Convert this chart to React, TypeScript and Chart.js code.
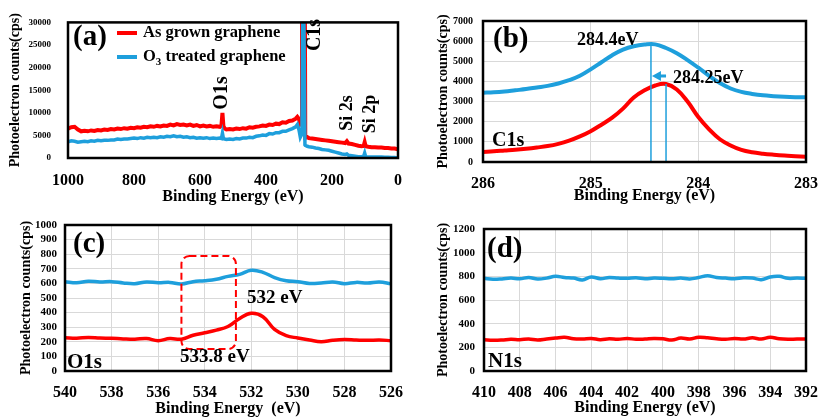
import React, { useEffect, useRef } from 'react';
import { Chart, registerables } from 'chart.js';

Chart.register(...registerables);

const FONT = '"Liberation Serif", "Times New Roman", serif';
const RED = '#ff0000';
const BLUE = '#1e9fdc';
const GRID = '#d9d9d9';

// ---------- Panel (a): survey spectrum ----------
const aEnergy = [
  1000, 990, 980, 970, 960, 950, 940, 930, 920, 910,
  900, 890, 880, 870, 860, 850, 840, 830, 820, 810,
  800, 790, 780, 770, 760, 750, 740, 730, 720, 710,
  700, 690, 680, 670, 660, 650, 640, 630, 620, 610,
  600, 590, 580, 570, 560, 550, 540, 535, 532, 529,
  525, 520, 510, 500, 490, 480, 470, 460, 450, 440,
  430, 420, 410, 400, 390, 380, 370, 360, 350, 340,
  330, 320, 310, 305, 300, 296, 292, 291, 289, 285,
  282, 281, 275, 270, 260, 250, 240, 230, 220, 210,
  200, 190, 180, 170, 160, 155, 150, 140, 130, 120,
  110, 104, 101, 98, 90, 80, 70, 60, 50, 40,
  30, 20, 10, 0,
];
const aAsGrown = [
  6500, 6800, 6900, 6300, 5900, 6000, 5900, 6100, 6000, 6200,
  6100, 6300, 6200, 6400, 6300, 6500, 6400, 6600, 6500, 6700,
  6600, 6800, 6700, 6900, 6800, 7000, 6900, 7100, 7000, 7200,
  7100, 7400, 7200, 7500, 7300, 7400, 7200, 7400, 7100, 7300,
  7000, 7200, 7000, 7100, 6900, 7000, 6900, 7200, 10000, 7000,
  6500, 6300, 6400, 6300, 6500, 6400, 6600, 6500, 6800, 6700,
  6900, 7000, 7200, 7100, 7400, 7300, 7600, 7500, 7900, 7800,
  8200, 8300, 8700, 9100, 8600, 7600, 8000, 30000, 30000, 30000,
  30000, 4500, 4600, 4400, 4300, 4200, 4100, 4000, 3900, 3800,
  3700, 3600, 3500, 3400, 3300, 3700, 3200, 3100, 2900, 2700,
  2600, 2700, 3500, 2600, 2500, 2400, 2400, 2300, 2300, 2200,
  2200, 2100, 2100, 1900,
];
const aO3Treated = [
  3600, 3800, 3700, 3500, 3600, 3700, 3600, 3800, 3700, 3900,
  3800, 3900, 3900, 4000, 4000, 4200, 4100, 4200, 4200, 4300,
  4400, 4300, 4500, 4400, 4600, 4500, 4600, 4500, 4700, 4600,
  4800, 4700, 4900, 4700, 4800, 4600, 4700, 4500, 4600, 4400,
  4500, 4400, 4500, 4300, 4400, 4300, 4400, 4300, 5500, 4300,
  4200, 4100, 4200, 4100, 4300, 4200, 4400, 4400, 4600, 4500,
  4800, 4900, 5100, 5000, 5400, 5300, 5600, 5600, 5900, 5900,
  6200, 6500, 6900, 7400, 6200, 4600, 5200, 5400, 29500, 29500,
  2900, 2800, 2600, 2500, 2400, 2200, 2100, 1900, 1800, 1700,
  1500, 1300, 1100, 900, 800, 900, 600, 500, 400, 300,
  300, 400, 1100, 300, 200, 200, 200, 200, 200, 150,
  150, 100, 100, 0,
];

// ---------- Panel (b): C1s ----------
const bEnergy = [
  286.0, 285.9, 285.8, 285.7, 285.6, 285.5, 285.4, 285.3, 285.2, 285.1,
  285.0, 284.9, 284.8, 284.7, 284.6, 284.5, 284.4, 284.3, 284.2, 284.1,
  284.0, 283.9, 283.8, 283.7, 283.6, 283.5, 283.4, 283.3, 283.2, 283.1,
  283.0,
];
const bAsGrown = [
  500, 530, 570, 610, 660, 720, 790, 900, 1060, 1270,
  1530, 1850, 2200, 2650, 3200, 3560, 3800, 3870, 3600, 3000,
  2230, 1620, 1130, 820, 600, 480, 410, 360, 320, 290,
  260,
];
const bO3Treated = [
  3440, 3460, 3500, 3560, 3620, 3700, 3780, 3900, 4060, 4280,
  4600, 4950, 5300, 5580, 5750, 5830, 5840, 5660, 5400, 5060,
  4680, 4280, 3920, 3650, 3480, 3380, 3310, 3270, 3240, 3220,
  3210,
];
const bMarkEnergy = [284.44, 284.3];
const bMarkCounts = [5840, 3870];
const bArrowCounts = 4270;

// ---------- Panel (c): O1s ----------
const cEnergy = [
  540, 539.5, 539, 538.5, 538, 537.5, 537, 536.5, 536, 535.5,
  535, 534.5, 534, 533.5, 533, 532.5, 532, 531.5, 531, 530.5,
  530, 529.5, 529, 528.5, 528, 527.5, 527, 526.5, 526,
];
const cAsGrown = [
  228, 225, 230, 226, 224, 220, 218, 222, 208, 222,
  218, 245, 262, 280, 305, 360, 395, 372, 285, 242,
  226, 212, 200, 210, 215, 212, 210, 212, 208,
];
const cO3Treated = [
  612, 605, 615, 610, 612, 603, 598, 610, 604, 607,
  596, 612, 618, 628, 648, 662, 690, 676, 640, 618,
  612, 600, 603, 610, 598, 607, 603, 610, 597,
];
const cBoxEnergy = [535.0, 532.66];
const cBoxCounts = [788, 150];

// ---------- Panel (d): N1s ----------
const dEnergy = [
  410, 409.5, 409, 408.5, 408, 407.5, 407, 406.5, 406, 405.5,
  405, 404.5, 404, 403.5, 403, 402.5, 402, 401.5, 401, 400.5,
  400, 399.5, 399, 398.5, 398, 397.5, 397, 396.5, 396, 395.5,
  395, 394.5, 394, 393.5, 393, 392.5, 392,
];
const dAsGrown = [
  265, 260, 262, 268, 265, 270, 262, 270, 278, 285,
  272, 270, 275, 265, 272, 268, 275, 268, 270, 275,
  272, 262, 278, 270, 285, 280, 272, 268, 275, 270,
  280, 270, 285, 272, 268, 270, 270,
];
const dO3Treated = [
  783, 775, 778, 785, 780, 790, 778, 785, 800, 790,
  785, 770, 795, 780, 790, 785, 783, 788, 780, 785,
  783, 780, 785, 778, 790, 805, 790, 785, 780, 788,
  785, 772, 795, 800, 783, 785, 783,
];

const Y_TITLE = 'Photoelectron counts(cps)';

function pts(xs: number[], ys: number[]) {
  return xs.map((x, i) => ({ x, y: ys[i] }));
}

function series(xs: number[], ys: number[], color: string, width: number, tension: number) {
  return {
    data: pts(xs, ys),
    borderColor: color,
    backgroundColor: color,
    borderWidth: width,
    pointRadius: 0,
    tension,
    fill: false,
  };
}

function text(ctx: CanvasRenderingContext2D, s: string, x: number, y: number, size: number) {
  ctx.font = `bold ${size}px ${FONT}`;
  ctx.fillStyle = '#000';
  ctx.textAlign = 'left';
  ctx.textBaseline = 'middle';
  ctx.fillText(s, x, y);
}

function vtext(ctx: CanvasRenderingContext2D, s: string, cx: number, cy: number, size: number) {
  ctx.save();
  ctx.translate(cx, cy);
  ctx.rotate(-Math.PI / 2);
  ctx.font = `bold ${size}px ${FONT}`;
  ctx.fillStyle = '#000';
  ctx.textAlign = 'center';
  ctx.textBaseline = 'middle';
  ctx.fillText(s, 0, 0);
  ctx.restore();
}

type Spec = {
  left: number; top: number; w: number; h: number;
  padTop: number; padRight: number; yW: number; xH: number;
  xMin: number; xMax: number; xStep: number;
  yMin: number; yMax: number; yStep: number;
  grid: boolean; yTickFont: number; yTickPad: number; yTitlePad: number;
  xTickPad: number; xTitlePad: number; xTitle: string;
  datasets: any[];
  draw: (ctx: CanvasRenderingContext2D, xs: any, ys: any) => void;
};

const specA: Spec = {
  left: 0, top: 0, w: 415, h: 210, padTop: 15, padRight: 15, yW: 68, xH: 52,
  xMin: 0, xMax: 1000, xStep: 200, yMin: 0, yMax: 30000, yStep: 5000,
  grid: false, yTickFont: 9, yTickPad: 17, yTitlePad: 7.4, xTickPad: 13, xTitlePad: 3.4,
  xTitle: 'Binding Energy (eV)',
  datasets: [
    series(aEnergy, aO3Treated, BLUE, 3.5, 0),
    series(aEnergy, aAsGrown, RED, 4, 0),
  ],
  draw: (ctx) => {
    text(ctx, '(a)', 73, 38, 29);
    ctx.lineWidth = 4;
    ctx.strokeStyle = RED;
    ctx.beginPath(); ctx.moveTo(117, 33); ctx.lineTo(137, 33); ctx.stroke();
    ctx.strokeStyle = BLUE;
    ctx.beginPath(); ctx.moveTo(117, 57); ctx.lineTo(137, 57); ctx.stroke();
    text(ctx, 'As grown graphene', 143, 33, 16.5);
    text(ctx, 'O', 143, 57, 16.5);
    const ow = ctx.measureText('O').width;
    text(ctx, '3', 143 + ow, 62, 11);
    const sw = ctx.measureText('3').width;
    text(ctx, ' treated graphene', 143 + ow + sw, 57, 16.5);
    vtext(ctx, 'O1s', 222, 93, 20);
    vtext(ctx, 'C1s', 315, 35, 20);
    vtext(ctx, 'Si 2s', 347, 113, 18);
    vtext(ctx, 'Si 2p', 370, 114, 18);
  },
};

const specB: Spec = {
  left: 415, top: 0, w: 415, h: 210, padTop: 21, padRight: 13, yW: 68, xH: 48,
  xMin: 283, xMax: 286, xStep: 1, yMin: 0, yMax: 7000, yStep: 1000,
  grid: true, yTickFont: 10, yTickPad: 10, yTitlePad: 19.9, xTickPad: 12, xTitlePad: 4.1,
  xTitle: 'Binding Energy (eV)',
  datasets: [
    series([bMarkEnergy[0], bMarkEnergy[0]], [0, bMarkCounts[0]], BLUE, 1.5, 0),
    series([bMarkEnergy[1], bMarkEnergy[1]], [0, bMarkCounts[1]], BLUE, 1.5, 0),
    series(bEnergy, bO3Treated, BLUE, 4, 0.4),
    series(bEnergy, bAsGrown, RED, 4, 0.4),
  ],
  draw: (ctx, xs, ys) => {
    const y = ys.getPixelForValue(bArrowCounts);
    const x0 = xs.getPixelForValue(bMarkEnergy[0]);
    const x1 = xs.getPixelForValue(bMarkEnergy[1]);
    ctx.strokeStyle = BLUE;
    ctx.fillStyle = BLUE;
    ctx.lineWidth = 3;
    ctx.beginPath(); ctx.moveTo(x0 + 7, y); ctx.lineTo(x1, y); ctx.stroke();
    ctx.beginPath();
    ctx.moveTo(x0 + 1, y);
    ctx.lineTo(x0 + 10, y - 5);
    ctx.lineTo(x0 + 10, y + 5);
    ctx.closePath();
    ctx.fill();
    text(ctx, '(b)', 78, 40, 29);
    text(ctx, '284.4eV', 162, 40, 18);
    text(ctx, '284.25eV', 258, 78, 18);
    text(ctx, 'C1s', 77, 141, 20);
  },
};

const specC: Spec = {
  left: 0, top: 210, w: 415, h: 207, padTop: 15, padRight: 13, yW: 65, xH: 46,
  xMin: 526, xMax: 540, xStep: 2, yMin: 0, yMax: 1000, yStep: 100,
  grid: true, yTickFont: 11, yTickPad: 8, yTitlePad: 18.3, xTickPad: 12, xTitlePad: -1.3,
  xTitle: 'Binding Energy  (eV)',
  datasets: [
    series(cEnergy, cO3Treated, BLUE, 3.5, 0.4),
    series(cEnergy, cAsGrown, RED, 3.5, 0.4),
  ],
  draw: (ctx, xs, ys) => {
    const x0 = xs.getPixelForValue(cBoxEnergy[0]);
    const x1 = xs.getPixelForValue(cBoxEnergy[1]);
    const y0 = ys.getPixelForValue(cBoxCounts[0]);
    const y1 = ys.getPixelForValue(cBoxCounts[1]);
    const r = 8;
    ctx.save();
    ctx.strokeStyle = RED;
    ctx.lineWidth = 2;
    ctx.setLineDash([7, 4]);
    ctx.beginPath();
    ctx.moveTo(x0 + r, y0);
    ctx.lineTo(x1 - r, y0);
    ctx.arcTo(x1, y0, x1, y0 + r, r);
    ctx.lineTo(x1, y1 - r);
    ctx.arcTo(x1, y1, x1 - r, y1, r);
    ctx.lineTo(x0 + r, y1);
    ctx.arcTo(x0, y1, x0, y1 - r, r);
    ctx.lineTo(x0, y0 + r);
    ctx.arcTo(x0, y0, x0 + r, y0, r);
    ctx.stroke();
    ctx.restore();
    text(ctx, '(c)', 73, 35, 29);
    text(ctx, '532 eV', 247, 88, 19);
    text(ctx, '533.8 eV', 180, 147, 19);
    text(ctx, 'O1s', 67, 153, 21);
  },
};

const specD: Spec = {
  left: 415, top: 210, w: 415, h: 207, padTop: 19, padRight: 14, yW: 69, xH: 46,
  xMin: 392, xMax: 410, xStep: 2, yMin: 0, yMax: 1200, yStep: 200,
  grid: true, yTickFont: 11, yTickPad: 9, yTitlePad: 19.9, xTickPad: 12, xTitlePad: -0.9,
  xTitle: 'Binding Energy (eV)',
  datasets: [
    series(dEnergy, dO3Treated, BLUE, 3.5, 0.4),
    series(dEnergy, dAsGrown, RED, 3.5, 0.4),
  ],
  draw: (ctx) => {
    text(ctx, '(d)', 72, 40, 29);
    text(ctx, 'N1s', 73, 152, 21);
  },
};

function buildConfig(p: Spec): any {
  const decor = {
    id: 'decor',
    afterDatasetsDraw(chart: any) {
      const { ctx, chartArea: a, scales } = chart;
      ctx.save();
      ctx.setLineDash([]);
      ctx.strokeStyle = '#000';
      ctx.lineWidth = 2.5;
      ctx.strokeRect(a.left, a.top, a.right - a.left, a.bottom - a.top);
      p.draw(ctx, scales.x, scales.y);
      ctx.restore();
    },
  };
  return {
    type: 'line',
    data: { datasets: p.datasets },
    options: {
      responsive: false,
      animation: false,
      devicePixelRatio: 1,
      layout: { padding: { top: p.padTop, right: p.padRight, left: 0, bottom: 0 } },
      plugins: { legend: { display: false }, tooltip: { enabled: false }, title: { display: false } },
      scales: {
        x: {
          type: 'linear',
          reverse: true,
          min: p.xMin,
          max: p.xMax,
          afterFit: (s: any) => { s.height = p.xH; },
          grid: { display: p.grid, color: GRID, drawTicks: false, lineWidth: 1 },
          border: { display: false },
          ticks: {
            stepSize: p.xStep,
            padding: p.xTickPad,
            color: '#000',
            autoSkip: false,
            maxRotation: 0,
            font: { family: FONT, size: 16, weight: 'bold' },
            callback: (v: any) => String(v),
          },
          title: {
            display: true,
            text: p.xTitle,
            color: '#000',
            font: { family: FONT, size: 16, weight: 'bold' },
            padding: { top: 0, bottom: p.xTitlePad },
          },
        },
        y: {
          type: 'linear',
          min: p.yMin,
          max: p.yMax,
          afterFit: (s: any) => { s.width = p.yW; },
          grid: { display: p.grid, color: GRID, drawTicks: false, lineWidth: 1 },
          border: { display: false },
          ticks: {
            stepSize: p.yStep,
            padding: p.yTickPad,
            color: '#000',
            autoSkip: false,
            font: { family: FONT, size: p.yTickFont, weight: 'bold' },
            callback: (v: any) => String(v),
          },
          title: {
            display: true,
            text: Y_TITLE,
            color: '#000',
            font: { family: FONT, size: 14, weight: 'bold' },
            padding: { top: p.yTitlePad, bottom: 0 },
          },
        },
      },
    },
    plugins: [decor],
  };
}

function Panel({ spec }: { spec: Spec }) {
  const ref = useRef<HTMLCanvasElement>(null);
  useEffect(() => {
    const chart = new Chart(ref.current as HTMLCanvasElement, buildConfig(spec));
    return () => chart.destroy();
  }, [spec]);
  return (
    <canvas
      ref={ref}
      width={spec.w}
      height={spec.h}
      style={{ position: 'absolute', left: spec.left, top: spec.top, width: spec.w, height: spec.h }}
    />
  );
}

export default function App() {
  return (
    <div style={{ position: 'fixed', left: 0, top: 0, width: 830, height: 417, background: '#fff', overflow: 'hidden' }}>
      <Panel spec={specA} />
      <Panel spec={specB} />
      <Panel spec={specC} />
      <Panel spec={specD} />
    </div>
  );
}
